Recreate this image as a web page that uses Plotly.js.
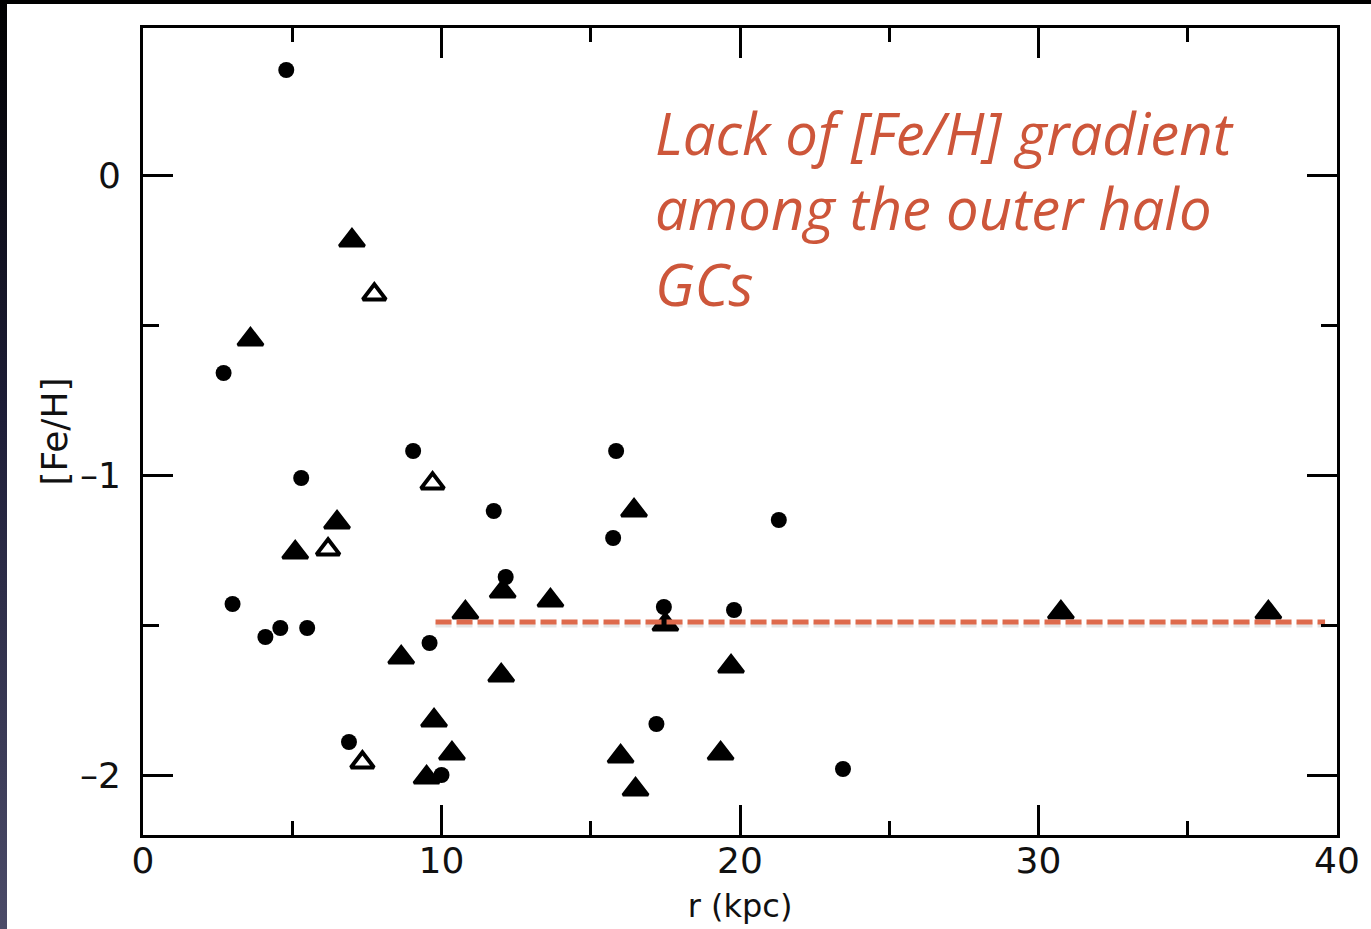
<!DOCTYPE html>
<html>
<head>
<meta charset="utf-8">
<script src="https://cdn.plot.ly/plotly-3.0.1.min.js"></script>
<style>
  html, body { margin: 0; padding: 0; background: #ffffff; }
  #chart { position: absolute; left: 0; top: 0; width: 1371px; height: 929px; }
  #topbar { position: absolute; left: 0; top: 0; width: 1371px; height: 4px; background: #000; z-index: 5; }
  #leftbar { position: absolute; left: 0; top: 0; width: 7px; height: 929px; z-index: 5;
             background: linear-gradient(to bottom, #000000 0%, #1e1e38 45%, #4b4b68 100%); }
</style>
</head>
<body>
<div id="chart"></div>
<div id="topbar"></div>
<div id="leftbar"></div>
<script>
// Filled circles
const circleR  = [4.8, 2.7, 3.0, 4.1, 4.6, 5.3, 5.5, 6.9, 9.05, 9.6, 10.0, 11.75, 12.15, 15.75, 15.85, 17.2, 17.45, 19.8, 21.3, 23.45];
const circleFe = [0.35, -0.66, -1.43, -1.54, -1.51, -1.01, -1.51, -1.89, -0.92, -1.56, -2.0, -1.12, -1.34, -1.21, -0.92, -1.83, -1.44, -1.45, -1.15, -1.98];

// Filled triangles
const triR  = [3.6, 7.0, 5.1, 6.5, 8.65, 9.75, 9.5, 10.35, 10.8, 12.05, 12.0, 13.65, 16.0, 16.45, 16.5, 17.5, 19.35, 19.7, 30.75, 37.7];
const triFe = [-0.54, -0.21, -1.25, -1.15, -1.6, -1.81, -2.0, -1.92, -1.45, -1.38, -1.66, -1.41, -1.93, -1.11, -2.04, -1.49, -1.92, -1.63, -1.45, -1.45];

// Open triangles
const openR  = [7.75, 6.2, 9.7, 7.35];
const openFe = [-0.39, -1.24, -1.02, -1.95];

// Mean outer-halo level (dashed guide)
const guideR  = [9.8, 39.6];
const guideFe = [-1.49, -1.49];

const xTickVals = [0, 10, 20, 30, 40];
const xTickText = ['0', '10', '20', '30', '40'];
const yTickVals = [0, -1, -2];
const yTickText = ['0', '\u20131', '\u20132'];

const annText = '<i>Lack of [Fe/H] gradient<br>among the outer halo<br>GCs</i>';

const tickFont = {family: 'DejaVu Sans, sans-serif', size: 36, color: '#111'};

const traces = [
  {x: guideR, y: guideFe.map(v => v - 0.01), mode: 'lines', hoverinfo: 'skip',
   line: {color: 'rgba(0,0,0,0.10)', width: 5, dash: '16px,5px'}, showlegend: false},
  {x: circleR, y: circleFe, mode: 'markers', type: 'scatter', showlegend: false,
   marker: {symbol: 'circle', size: 16, color: '#000', line: {width: 0}}},
  {x: triR, y: triFe.map(v => v - 0.008), mode: 'markers', type: 'scatter', showlegend: false,
   marker: {symbol: 'triangle-up', size: 22, color: '#000', line: {width: 3, color: '#000'}}},
  {x: openR, y: openFe.map(v => v - 0.008), mode: 'markers', type: 'scatter', showlegend: false,
   marker: {symbol: 'triangle-up', size: 20, color: '#fff', line: {width: 4, color: '#000'}}},
  {x: guideR, y: guideFe, mode: 'lines', showlegend: false,
   line: {color: '#DE6A4C', width: 5, dash: '16px,5px'}}
];

const layout = {
  width: 1371, height: 929,
  margin: {l: 143, r: 34, t: 28, b: 94, pad: 0},
  paper_bgcolor: '#ffffff', plot_bgcolor: '#ffffff',
  showlegend: false,
  xaxis: {
    range: [0, 40], showgrid: false, zeroline: false,
    showline: true, linecolor: '#000', linewidth: 3, mirror: 'ticks',
    ticks: 'inside', ticklen: 30, tickwidth: 3, tickcolor: '#000',
    tickmode: 'array', tickvals: xTickVals, ticktext: xTickText,
    tickfont: tickFont, ticklabelstandoff: -8,
    minor: {dtick: 5, tick0: 0, ticks: 'inside', ticklen: 14, tickwidth: 3, tickcolor: '#000', showgrid: false},
    title: {text: 'r (kpc)', font: {family: 'DejaVu Sans, sans-serif', size: 32, color: '#111'}, standoff: 15}
  },
  yaxis: {
    range: [-2.2, 0.49], showgrid: false, zeroline: false,
    showline: true, linecolor: '#000', linewidth: 3, mirror: 'ticks',
    ticks: 'inside', ticklen: 30, tickwidth: 3, tickcolor: '#000',
    tickmode: 'array', tickvals: yTickVals, ticktext: yTickText,
    tickfont: tickFont, ticklabelstandoff: 12,
    minor: {dtick: 0.5, tick0: 0, ticks: 'inside', ticklen: 16, tickwidth: 3, tickcolor: '#000', showgrid: false},
    title: {text: '[Fe/H]', font: {family: 'DejaVu Sans, sans-serif', size: 36, color: '#111'}, standoff: 2}
  },
  annotations: [{
    x: 17.1, y: 0.28, xref: 'x', yref: 'y', xanchor: 'left', yanchor: 'top',
    text: annText, showarrow: false, align: 'left',
    font: {family: 'Open Sans, sans-serif', size: 58, color: '#CD563A', style: 'italic'}
  }]
};

Plotly.newPlot('chart', traces, layout, {displayModeBar: false, staticPlot: true});
</script>
</body>
</html>
